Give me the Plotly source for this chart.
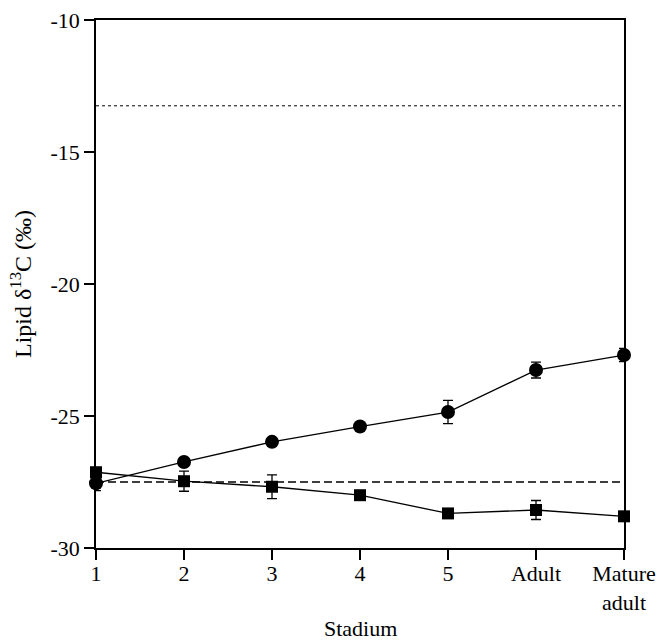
import plotly.graph_objects as go

stages = ["1", "2", "3", "4", "5", "Adult", "Mature adult"]
tick_text = ["1", "2", "3", "4", "5", "Adult", "Mature<br>adult"]
y_ticks = [-30, -25, -20, -15, -10]
y_tick_text = ["-30", "-25", "-20", "-15", "-10"]

circle_vals = [-27.55, -26.74, -25.98, -25.40, -24.85, -23.26, -22.69]
circle_err = [0.28, 0.15, 0.10, 0.12, 0.44, 0.30, 0.25]

square_vals = [-27.13, -27.47, -27.68, -28.00, -28.69, -28.56, -28.80]
square_err = [0.15, 0.38, 0.45, 0.10, 0.10, 0.36, 0.10]

dotted_ref = -13.25
dashed_ref = -27.5

xs = list(range(len(stages)))

FONT = "Liberation Serif, Times New Roman, serif"
FS = 22

fig = go.Figure()

fig.add_trace(go.Scatter(
    x=xs, y=circle_vals, mode="lines+markers",
    line=dict(color="black", width=1.3),
    marker=dict(symbol="circle", size=14, color="black"),
    error_y=dict(type="data", array=circle_err, visible=True, color="black", thickness=1.3, width=5),
    cliponaxis=False, showlegend=False,
))
fig.add_trace(go.Scatter(
    x=xs, y=square_vals, mode="lines+markers",
    line=dict(color="black", width=1.3),
    marker=dict(symbol="square", size=12, color="black"),
    error_y=dict(type="data", array=square_err, visible=True, color="black", thickness=1.3, width=5),
    cliponaxis=False, showlegend=False,
))

fig.add_shape(type="line", xref="paper", yref="y", x0=0, x1=1, y0=dotted_ref, y1=dotted_ref,
              line=dict(color="black", width=1, dash="dot"))
fig.add_shape(type="line", xref="paper", yref="y", x0=0, x1=1, y0=dashed_ref, y1=dashed_ref,
              line=dict(color="black", width=1.5, dash="8px,4px"))

fig.add_annotation(text="Stadium", xref="paper", yref="paper", x=0.5, y=0,
                   yshift=-80, xanchor="center", yanchor="middle", showarrow=False,
                   font=dict(family=FONT, size=FS, color="black"))
fig.add_annotation(text="Lipid δ<sup>13</sup>C (‰)", xref="paper", yref="paper", x=0, y=0.5,
                   xshift=-75, xanchor="center", yanchor="middle", textangle=-90, showarrow=False,
                   font=dict(family=FONT, size=24, color="black"))

fig.update_layout(
    width=658, height=642,
    margin=dict(l=96, r=34, t=20, b=94),
    paper_bgcolor="white", plot_bgcolor="white",
    font=dict(family=FONT, color="black", size=FS),
    xaxis=dict(
        range=[0, 6], tickmode="array", tickvals=xs, ticktext=tick_text,
        showgrid=False, zeroline=False, showline=True, linecolor="black", linewidth=1.5,
        mirror=True, ticks="outside", ticklen=10, tickwidth=1.5, tickcolor="black",
        tickfont=dict(family=FONT, size=FS, color="black"), automargin=False,
        ticklabelstandoff=-5,
    ),
    yaxis=dict(
        range=[-30, -10], tickmode="array", tickvals=y_ticks, ticktext=y_tick_text,
        showgrid=False, zeroline=False, showline=True, linecolor="black", linewidth=1.5,
        mirror=True, ticks="outside", ticklen=10, tickwidth=1.5, tickcolor="black",
        tickfont=dict(family=FONT, size=FS, color="black"), automargin=False,
    ),
)

fig.write_html("out.html")
